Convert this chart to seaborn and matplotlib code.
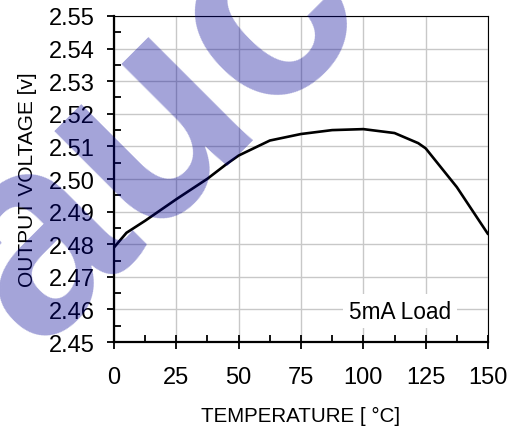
import numpy as np
import pandas as pd
import seaborn as sns
import matplotlib.pyplot as plt
from matplotlib.ticker import MultipleLocator

# values
temperature = [0, 5, 12.5, 25, 37.5, 45, 50, 62.5, 75, 87.5, 100, 112.5, 122, 125, 137.5, 150]
voltage = [2.4790, 2.4835, 2.4872, 2.4938, 2.5001, 2.5045, 2.5072, 2.5118, 2.5138,
           2.5150, 2.5153, 2.5141, 2.5110, 2.5094, 2.4975, 2.4831]
x_ticks = [0, 25, 50, 75, 100, 125, 150]
y_ticks = [2.45, 2.46, 2.47, 2.48, 2.49, 2.50, 2.51, 2.52, 2.53, 2.54, 2.55]

sns.set_style("white")
plt.rcParams["font.family"] = ["Liberation Sans", "DejaVu Sans"]
plt.rcParams["text.color"] = "black"
plt.rcParams["axes.labelcolor"] = "black"
plt.rcParams["xtick.color"] = "black"
plt.rcParams["ytick.color"] = "black"

df = pd.DataFrame({"temp": temperature, "vout": voltage})

fig = plt.figure(figsize=(5.13, 4.27), dpi=100)
ax = fig.add_axes([0.2222, 0.1967, 0.9513 - 0.2222, 0.9602 - 0.1967])

sns.lineplot(data=df, x="temp", y="vout", ax=ax, color="black", linewidth=1.9, zorder=3)

ax.set_xlim(0, 150)
ax.set_ylim(2.45, 2.55)
ax.set_xticks(x_ticks)
ax.set_yticks(y_ticks)
ax.set_yticklabels([f"{v:.2f}" for v in y_ticks])
ax.xaxis.set_minor_locator(MultipleLocator(12.5))
ax.yaxis.set_minor_locator(MultipleLocator(0.005))

ax.grid(True, which="major", color="#c8c8c8", linewidth=1.0)
ax.set_axisbelow(True)

for side in ["left", "bottom"]:
    ax.spines[side].set_linewidth(1.6)
    ax.spines[side].set_color("black")
for side in ["top", "right"]:
    ax.spines[side].set_linewidth(0.8)
    ax.spines[side].set_color("black")
    ax.spines[side].set_visible(True)

ax.tick_params(axis="y", which="major", direction="out", length=5, width=1.3,
               labelsize=17, pad=9, left=True, colors="black")
ax.tick_params(axis="y", which="minor", direction="in", length=5, width=1.3, left=True,
               colors="black")
ax.tick_params(axis="x", which="major", direction="inout", length=10, width=1.3,
               labelsize=17, pad=12, bottom=True, colors="black")
ax.tick_params(axis="x", which="minor", direction="in", length=5, width=1.3, bottom=True,
               colors="black")

ax.set_xlabel("TEMPERATURE [ °C]", fontsize=14.8, labelpad=13, color="black")
ax.set_ylabel("OUTPUT VOLTAGE [v]", fontsize=15, labelpad=8, color="black")

ax.text(114.7, 2.4595, "5mA Load", fontsize=16.3, ha="center", va="center", zorder=4,
        color="black", bbox=dict(facecolor="white", edgecolor="none", pad=4))

# watermark
fig.text(0.30, 0.695, "auc", fontsize=200, fontweight="bold", color="#000096", alpha=0.36,
         rotation=45, rotation_mode="anchor", ha="center", va="center", zorder=10)

fig.savefig("out.png", dpi=100)
